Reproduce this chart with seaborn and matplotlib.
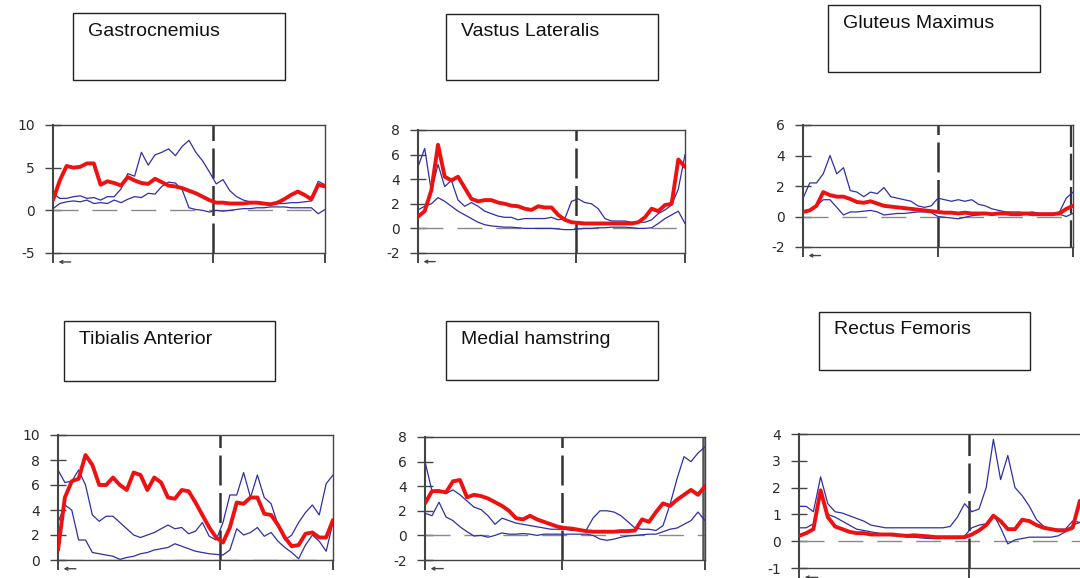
import numpy as np
import matplotlib
matplotlib.use("Agg")
import matplotlib.pyplot as plt
from matplotlib.patches import Rectangle
import seaborn as sns

sns.set_style("white")
plt.rcParams["font.family"] = ["Liberation Sans", "DejaVu Sans"]
plt.rcParams["axes.unicode_minus"] = False

# Percent of gait cycle at which each curve is sampled
pct = np.linspace(0, 100, 41)

# ---- Gastrocnemius ----
gas_mean = [1.2, 3.5, 5.2, 5.0, 5.1, 5.5, 5.5, 3.0, 3.4, 3.2, 2.9, 3.9, 3.5, 3.2, 3.1, 3.7,
            3.3, 2.9, 2.8, 2.6, 2.3, 2.0, 1.6, 1.2, 0.9, 0.9, 0.8, 0.8, 0.8, 0.9, 0.9, 0.8,
            0.7, 0.9, 1.3, 1.8, 2.2, 1.8, 1.3, 3.0, 2.8]
gas_upper = [2.0, 1.4, 1.4, 1.6, 1.7, 1.4, 1.5, 1.2, 1.6, 1.6, 2.5, 4.3, 4.0, 6.8, 5.3, 6.5,
             6.8, 7.2, 6.4, 7.5, 8.2, 6.8, 5.8, 4.5, 3.1, 3.6, 2.3, 1.6, 1.2, 1.0, 0.9, 0.8,
             0.8, 0.8, 0.8, 0.9, 0.9, 1.0, 1.1, 3.4, 3.0]
gas_lower = [0.2, 0.8, 1.0, 1.1, 1.0, 1.2, 0.8, 0.9, 0.8, 1.2, 0.9, 1.3, 1.6, 1.5, 2.0, 1.9,
             2.8, 3.3, 3.2, 2.4, 0.3, 0.1, 0.0, -0.2, 0.0, -0.1, 0.0, 0.1, 0.2, 0.2, 0.3, 0.3,
             0.4, 0.4, 0.4, 0.3, 0.3, 0.3, 0.3, -0.4, 0.1]

# ---- Vastus Lateralis ----
vl_mean = [0.95, 1.4, 3.1, 6.8, 4.2, 3.9, 4.2, 3.3, 2.4, 2.2, 2.3, 2.3, 2.1, 2.0, 1.85, 1.8,
           1.6, 1.5, 1.8, 1.7, 1.7, 1.1, 0.7, 0.5, 0.45, 0.4, 0.4, 0.4, 0.4, 0.4, 0.4, 0.4,
           0.4, 0.5, 0.9, 1.6, 1.4, 1.9, 2.0, 5.6, 5.0]
vl_upper = [5.0, 6.5, 3.0, 5.2, 3.4, 3.9, 2.3, 1.8, 2.1, 1.8, 1.4, 1.2, 1.0, 0.9, 0.9, 0.7,
            0.8, 0.8, 0.8, 0.8, 0.9, 0.7, 0.8, 2.2, 2.4, 2.1, 2.0, 1.6, 0.8, 0.6, 0.6, 0.6,
            0.5, 0.5, 0.5, 0.7, 1.2, 1.5, 1.9, 3.2, 6.0]
vl_lower = [1.5, 1.8, 2.0, 2.5, 2.2, 1.8, 1.4, 1.1, 0.8, 0.5, 0.3, 0.2, 0.15, 0.1, 0.1, 0.05,
            0.0, 0.0, 0.0, 0.0, 0.0, -0.05, -0.1, -0.1, -0.05, 0.0, 0.0, 0.05, 0.05, 0.1, 0.1,
            0.1, 0.05, 0.0, 0.0, 0.05, 0.4, 0.8, 1.1, 1.4, 0.4]

# ---- Gluteus Maximus ----
gm_mean = [0.3, 0.4, 0.7, 1.6, 1.4, 1.3, 1.3, 1.15, 0.95, 0.9, 1.0, 0.85, 0.7, 0.65, 0.6,
           0.55, 0.5, 0.45, 0.4, 0.35, 0.3, 0.25, 0.25, 0.2, 0.25, 0.2, 0.2, 0.2, 0.15, 0.2,
           0.2, 0.15, 0.15, 0.2, 0.15, 0.15, 0.15, 0.15, 0.2, 0.5, 0.7]
gm_upper = [1.2, 2.2, 2.2, 2.8, 4.0, 2.8, 3.2, 1.7, 1.6, 1.3, 1.6, 1.5, 1.9, 1.3, 1.2, 1.1,
            1.0, 0.7, 0.6, 0.7, 1.2, 1.1, 1.0, 1.1, 1.0, 1.1, 0.8, 0.7, 0.5, 0.4, 0.3, 0.3,
            0.3, 0.25, 0.3, 0.2, 0.2, 0.2, 0.3, 1.2, 1.6]
gm_lower = [0.3, 0.45, 0.7, 1.1, 1.1, 0.6, 0.1, 0.3, 0.3, 0.35, 0.4, 0.3, 0.1, 0.15, 0.2,
            0.2, 0.25, 0.3, 0.3, 0.25, 0.0, -0.05, -0.1, -0.15, -0.05, 0.05, 0.1, 0.15, 0.2,
            0.2, 0.2, 0.2, 0.2, 0.2, 0.2, 0.2, 0.2, 0.2, 0.15, 0.0, 0.2]

# ---- Tibialis Anterior ----
ta_mean = [0.8, 5.0, 6.3, 6.5, 8.4, 7.6, 6.0, 6.0, 6.6, 6.0, 5.6, 7.0, 6.8, 5.6, 6.6, 6.2,
           5.0, 4.9, 5.6, 5.5, 4.6, 3.6, 2.6, 1.8, 1.4, 2.6, 4.6, 4.5, 5.0, 5.0, 3.7, 3.6,
           2.8, 1.8, 1.1, 1.2, 2.1, 2.2, 1.8, 1.8, 3.2]
ta_upper = [7.2, 6.2, 6.3, 7.2, 6.0, 3.6, 3.1, 3.5, 3.5, 3.0, 2.5, 2.0, 1.8, 2.0, 2.2, 2.5,
            2.8, 2.5, 2.6, 2.1, 2.3, 3.0, 1.9, 1.6, 3.0, 5.2, 5.2, 7.0, 5.0, 6.8, 5.0, 4.5,
            2.8, 1.6, 2.0, 3.0, 3.8, 4.4, 3.6, 6.1, 6.8]
ta_lower = [3.0, 4.4, 4.0, 1.6, 1.6, 0.6, 0.5, 0.4, 0.3, 0.05, 0.2, 0.3, 0.5, 0.6, 0.8, 0.9,
            1.0, 1.3, 1.1, 0.9, 0.7, 0.6, 0.5, 0.45, 0.4, 0.8, 2.5, 2.0, 2.2, 2.6, 1.9, 2.2,
            1.5, 1.0, 0.6, 0.1, 1.2, 2.0, 1.5, 0.7, 3.0]

# ---- Medial hamstring ----
mh_mean = [2.6, 3.6, 3.6, 3.5, 4.4, 4.5, 3.1, 3.3, 3.2, 3.0, 2.7, 2.4, 2.0, 1.4, 1.3, 1.6,
           1.3, 1.1, 0.9, 0.7, 0.6, 0.55, 0.45, 0.35, 0.3, 0.3, 0.3, 0.3, 0.35, 0.35, 0.4,
           1.3, 1.1, 1.9, 2.6, 2.4, 2.9, 3.3, 3.7, 3.3, 4.0]
mh_upper = [6.0, 3.6, 3.7, 3.4, 3.7, 3.3, 2.8, 2.3, 2.1, 1.6, 0.9, 1.4, 1.2, 1.0, 0.9, 0.8,
            0.7, 0.6, 0.5, 0.5, 0.5, 0.4, 0.4, 0.4, 1.4, 2.0, 2.0, 1.9, 1.6, 1.1, 0.6, 0.5,
            0.5, 0.4, 0.8, 2.5, 4.6, 6.4, 6.0, 6.7, 7.2]
mh_lower = [1.8, 1.6, 2.7, 1.5, 1.2, 0.7, 0.3, -0.05, 0.0, -0.15, 0.0, 0.2, 0.1, 0.1, 0.15,
            0.1, 0.0, 0.1, 0.1, 0.1, 0.1, 0.1, 0.1, 0.1, 0.0, -0.3, -0.4, -0.3, -0.15, -0.05,
            0.0, 0.05, 0.1, 0.1, 0.3, 0.5, 0.6, 0.9, 1.2, 1.9, 1.2]

# ---- Rectus Femoris ----
rf_mean = [0.2, 0.3, 0.45, 1.9, 0.9, 0.55, 0.45, 0.35, 0.3, 0.3, 0.25, 0.25, 0.25, 0.25,
           0.22, 0.2, 0.22, 0.2, 0.18, 0.15, 0.15, 0.15, 0.15, 0.15, 0.25, 0.4, 0.6, 0.95,
           0.75, 0.45, 0.45, 0.8, 0.75, 0.6, 0.5, 0.45, 0.4, 0.4, 0.5, 1.5, 1.6]
rf_upper = [1.3, 1.3, 1.1, 2.4, 1.4, 1.1, 1.05, 0.95, 0.85, 0.75, 0.6, 0.55, 0.5, 0.5, 0.5,
            0.5, 0.5, 0.5, 0.5, 0.5, 0.5, 0.55, 0.9, 1.4, 1.1, 1.2, 2.0, 3.8, 2.3, 3.2, 2.0,
            1.7, 1.3, 0.8, 0.55, 0.45, 0.45, 0.45, 0.75, 0.7, 0.7]
rf_lower = [0.5, 0.5, 0.65, 1.8, 1.0, 0.9, 0.75, 0.6, 0.45, 0.4, 0.35, 0.3, 0.25, 0.2, 0.2,
            0.15, 0.15, 0.12, 0.1, 0.1, 0.1, 0.1, 0.1, 0.2, 0.5, 0.6, 0.65, 1.0, 0.5, -0.1,
            0.05, 0.1, 0.15, 0.15, 0.15, 0.15, 0.2, 0.35, 0.6, 0.7, 0.7]

muscles = ["Gastrocnemius", "Vastus Lateralis", "Gluteus Maximus",
           "Tibialis Anterior", "Medial hamstring", "Rectus Femoris"]
means = [gas_mean, vl_mean, gm_mean, ta_mean, mh_mean, rf_mean]
uppers = [gas_upper, vl_upper, gm_upper, ta_upper, mh_upper, rf_upper]
lowers = [gas_lower, vl_lower, gm_lower, ta_lower, mh_lower, rf_lower]
yticks = [[-5, 0, 5, 10], [-2, 0, 2, 4, 6, 8], [-2, 0, 2, 4, 6],
          [0, 2, 4, 6, 8, 10], [-2, 0, 2, 4, 6, 8], [-1, 0, 1, 2, 3, 4]]
toe_off = [59, 59, 50, 59, 49, 59]

W, H = 1080, 578
# axes frames in pixels: left, right, top, bottom
frames = [(53, 325, 125, 253), (418, 685, 130, 253), (803, 1073, 125, 247),
          (58, 333, 435, 560), (425, 705, 437, 560), (799, 1087, 434, 568)]
# caption boxes in pixels: left, right, top, bottom
boxes = [(73, 285, 13, 80), (446, 658, 14, 80), (828, 1040, 5, 72),
         (64, 275, 321, 381), (446, 658, 321, 380), (819, 1030, 312, 370)]

fig = plt.figure(figsize=(W / 100, H / 100), dpi=100)
fig.patch.set_facecolor("white")

RED = "#ee1111"
BLUE = "#2f2fa6"
SPINE = "#444444"

for k in range(6):
    l, r, t, b = frames[k]
    ax = fig.add_axes([l / W, 1 - b / H, (r - l) / W, (b - t) / H])
    ax.set_facecolor("white")

    ax.axhline(0, color="#8a8a8a", lw=1.0, ls=(0, (18, 10)), zorder=1)
    ax.axvline(toe_off[k], color="#333333", lw=1.8, ls=(0, (12, 3)), zorder=1)
    if k == 2:
        ax.axvline(99.2, color="#333333", lw=1.6, ls=(0, (12, 3)), zorder=1)
    if k == 4:
        ax.axvline(99.2, color="#555555", lw=1.8, zorder=1)

    sns.lineplot(x=pct, y=uppers[k], ax=ax, color=BLUE, lw=0.9, zorder=2)
    sns.lineplot(x=pct, y=lowers[k], ax=ax, color=BLUE, lw=0.9, zorder=2)
    sns.lineplot(x=pct, y=means[k], ax=ax, color=RED, lw=2.8, zorder=3)

    ax.set_xlim(0, 100)
    ax.set_ylim(yticks[k][0], yticks[k][-1])
    ax.set_yticks(yticks[k])
    ax.set_xticks([0, toe_off[k], 100])
    ax.set_xticklabels([])
    ax.set_xlabel("")
    ax.set_ylabel("")
    ax.tick_params(axis="y", direction="inout", length=12, width=1.0, color=SPINE,
                   pad=7, labelsize=10, labelcolor="#2a2a2a", left=True)
    ax.tick_params(axis="x", direction="out", length=7, width=1.4, color=SPINE,
                   bottom=True)
    for lab in ax.get_yticklabels():
        lab.set_fontfamily("DejaVu Sans")
    for side, sp in ax.spines.items():
        sp.set_visible(True)
        sp.set_color(SPINE)
        sp.set_linewidth(1.5 if side == "left" else 1.0)

    # small direction-of-progression arrow under the left end
    ax.annotate("", xy=(1.0, -0.07), xytext=(7.5, -0.07),
                xycoords=("data", "axes fraction"),
                arrowprops=dict(arrowstyle="->", color=SPINE, lw=1.0,
                                mutation_scale=5),
                annotation_clip=False)

    bl, br, bt, bb = boxes[k]
    fig.patches.append(Rectangle((bl / W, 1 - bb / H), (br - bl) / W, (bb - bt) / H,
                                 transform=fig.transFigure, fill=False,
                                 edgecolor="#222222", lw=1.0))
    fig.text((bl + 15) / W, 1 - (bt + 18) / H, muscles[k], fontsize=14,
             color="#111111", va="center", ha="left")

fig.savefig("out.png", dpi=100, facecolor="white")
